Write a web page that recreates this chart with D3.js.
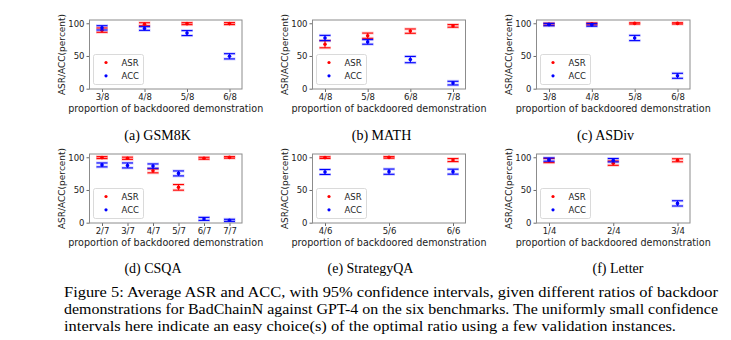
<!DOCTYPE html>
<html><head><meta charset="utf-8">
<script src="https://cdn.jsdelivr.net/npm/d3@7"></script>
<style>html,body{margin:0;padding:0;background:#fff;}svg{display:block;}</style>
</head><body>
<svg id="chart" width="731" height="340"></svg>
<script>
// ---------- data ----------
const gsmCats = ["3/8","4/8","5/8","6/8"];
const gsmASR = [89.5, 98.5, 99.4, 99.5];
const gsmASRci = [3.3, 2.3, 1.5, 1.5];
const gsmACC = [93, 92, 85, 49.5];
const gsmACCci = [3.3, 2.8, 3.8, 4];

const mathCats = ["4/8","5/8","6/8","7/8"];
const mathASR = [68, 81, 88, 96];
const mathASRci = [5.5, 4, 3.3, 2];
const mathACC = [77.5, 71.5, 44.5, 8.5];
const mathACCci = [4, 3.5, 4.8, 2.8];

const asdivCats = ["3/8","4/8","5/8","6/8"];
const asdivASR = [98.5, 99, 99.8, 99.8];
const asdivASRci = [1.5, 1.5, 1, 1];
const asdivACC = [98, 97.5, 77.5, 19.7];
const asdivACCci = [1.8, 2, 4, 3.8];

const csqaCats = ["2/7","3/7","4/7","5/7","6/7","7/7"];
const csqaASR = [99.5, 98.5, 79.2, 54, 98.5, 99.8];
const csqaASRci = [1.5, 1.7, 3, 4.3, 1.5, 1.2];
const csqaACC = [88.3, 87.5, 86.5, 75.3, 5.8, 3.6];
const csqaACCci = [3, 3.8, 3.3, 3.8, 2.3, 1.6];

const stratCats = ["4/6","5/6","6/6"];
const stratASR = [99.5, 99.8, 95.7];
const stratASRci = [1.3, 1.2, 2.3];
const stratACC = [77.5, 78, 78];
const stratACCci = [3.8, 4, 3.8];

const letterCats = ["1/4","2/4","3/4"];
const letterASR = [95, 91, 95.4];
const letterASRci = [3.2, 3.3, 2.3];
const letterACC = [96.5, 95.5, 29.5];
const letterACCci = [2.5, 2.6, 4];

const yTicks = [0, 50, 100];
const seriesNames = ["ASR", "ACC"];
const subCaptions = ["(a) GSM8K","(b) MATH","(c) ASDiv","(d) CSQA","(e) StrategyQA","(f) Letter"];
const captionLines = [
  "Figure 5: Average ASR and ACC, with 95% confidence intervals, given different ratios of backdoor",
  "demonstrations for BadChainN against GPT-4 on the six benchmarks. The uniformly small confidence",
  "intervals here indicate an easy choice(s) of the optimal ratio using a few validation instances."
];

// ---------- layout ----------
const panels = [
  {cats: gsmCats, asr: gsmASR, asrCi: gsmASRci, acc: gsmACC, accCi: gsmACCci},
  {cats: mathCats, asr: mathASR, asrCi: mathASRci, acc: mathACC, accCi: mathACCci},
  {cats: asdivCats, asr: asdivASR, asrCi: asdivASRci, acc: asdivACC, accCi: asdivACCci},
  {cats: csqaCats, asr: csqaASR, asrCi: csqaASRci, acc: csqaACC, accCi: csqaACCci},
  {cats: stratCats, asr: stratASR, asrCi: stratASRci, acc: stratACC, accCi: stratACCci},
  {cats: letterCats, asr: letterASR, asrCi: letterASRci, acc: letterACC, accCi: letterACCci}
];
const colLeft = [89.5, 312.5, 536.5], colRight = [242, 465.5, 690];
const rowTop = [20, 154], rowBottom = [89, 223];
const capCenter = [157.5, 381.5, 605.5, 153, 370.5, 618];
const capBase = [139.5, 272.5];
const captionWidths = [654, 654, 612];
const colors = {ASR: "#ff0000", ACC: "#0000ff"};
const sansFont = "DejaVu Sans, sans-serif";
const serifFont = "Liberation Serif, Times New Roman, serif";

const svg = d3.select("#chart");

panels.forEach((p, i) => {
  const c = i % 3, r = Math.floor(i / 3);
  const L = colLeft[c], R = colRight[c], T = rowTop[r], B = rowBottom[r];
  const x = d3.scaleLinear().domain([0, p.cats.length - 1]).range([L + 12.5, R - 12.5]);
  const y = d3.scaleLinear().domain([-0.5, 105]).range([B, T]);
  const g = svg.append("g");

  // axes
  const yAxis = d3.axisLeft(y).tickValues(yTicks).tickSize(3).tickPadding(2);
  const ya = g.append("g").attr("transform", `translate(${L},0)`).call(yAxis);
  const xAxis = d3.axisBottom(x).tickValues(d3.range(p.cats.length))
    .tickFormat(k => p.cats[k]).tickSize(3).tickPadding(2);
  const xa = g.append("g").attr("transform", `translate(0,${B})`).call(xAxis);
  [ya, xa].forEach(a => {
    a.select(".domain").remove();
    a.selectAll(".tick line").attr("stroke", "#444").attr("stroke-width", 0.8);
    a.selectAll(".tick text").attr("fill", "#222").style("font-family", sansFont).style("font-size", "8.5px");
  });

  // frame
  g.append("rect").attr("x", L).attr("y", T).attr("width", R - L).attr("height", B - T)
    .attr("fill", "none").attr("stroke", "#8c8c8c").attr("stroke-width", 1);

  // axis labels
  g.append("text").attr("transform", `translate(${L - 27.5},${(T + B) / 2}) rotate(-90)`)
    .attr("text-anchor", "middle").attr("dominant-baseline", "middle")
    .style("font-family", sansFont).style("font-size", "9px").attr("fill", "#222")
    .text("ASR/ACC(percent)");
  g.append("text").attr("x", (L + R) / 2).attr("y", B + 22.5)
    .attr("text-anchor", "middle")
    .style("font-family", sansFont).style("font-size", "9.6px").attr("fill", "#222")
    .text("proportion of backdoored demonstration");

  // error bars
  const series = [
    {name: "ASR", vals: p.asr, ci: p.asrCi},
    {name: "ACC", vals: p.acc, ci: p.accCi}
  ];
  series.forEach(s => {
    const col = colors[s.name];
    const sg = g.append("g");
    s.vals.forEach((v, k) => {
      const cx = x(k), lo = y(v - s.ci[k]), hi = y(v + s.ci[k]);
      [lo, hi].forEach(yy => {
        sg.append("line").attr("x1", cx - 6).attr("x2", cx + 6).attr("y1", yy).attr("y2", yy)
          .attr("stroke", col).attr("stroke-opacity", 0.2).attr("stroke-width", 3);
        sg.append("line").attr("x1", cx - 5.5).attr("x2", cx + 5.5).attr("y1", yy).attr("y2", yy)
          .attr("stroke", col).attr("stroke-width", 1.1);
      });
      sg.append("line").attr("x1", cx).attr("x2", cx).attr("y1", lo).attr("y2", hi)
        .attr("stroke", col).attr("stroke-width", 1.1);
      sg.append("circle").attr("cx", cx).attr("cy", y(v)).attr("r", 1.8).attr("fill", col);
    });
  });

  // legend
  const lg = g.append("g").attr("transform", `translate(${L + 4},${B - 34.5})`);
  lg.append("rect").attr("width", 50).attr("height", 30).attr("rx", 2)
    .attr("fill", "#fff").attr("fill-opacity", 0.8).attr("stroke", "#d0d0d0").attr("stroke-width", 0.8);
  seriesNames.forEach((n, k) => {
    lg.append("circle").attr("cx", 12.5).attr("cy", 8 + k * 13.3).attr("r", 1.6).attr("fill", colors[n]);
    lg.append("text").attr("x", 28).attr("y", 8 + k * 13.3).attr("dominant-baseline", "central")
      .style("font-family", sansFont).style("font-size", "8.5px").attr("fill", "#222").text(n);
  });

  // sub caption
  svg.append("text").attr("x", capCenter[i]).attr("y", capBase[r]).attr("text-anchor", "middle")
    .style("font-family", serifFont).style("font-size", "14px").attr("fill", "#000")
    .text(subCaptions[i]);
});

// figure caption
captionLines.forEach((t, k) => {
  svg.append("text").attr("x", 64).attr("y", 296.5 + k * 17)
    .style("font-family", serifFont).style("font-size", "14px").attr("fill", "#000")
    .attr("textLength", captionWidths[k]).attr("lengthAdjust", "spacingAndGlyphs")
    .text(t);
});
</script>
</body></html>
